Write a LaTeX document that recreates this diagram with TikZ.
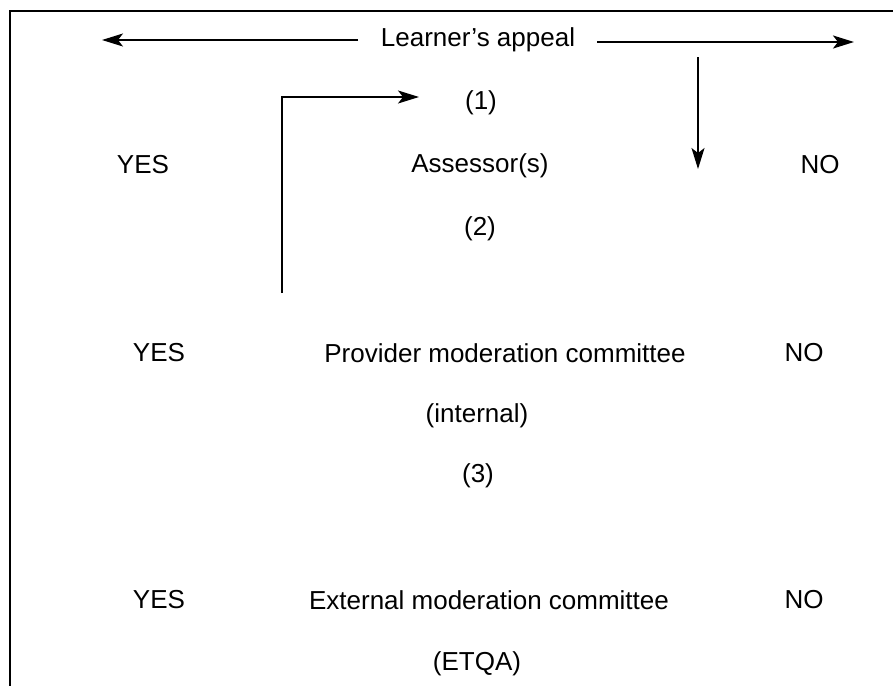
\documentclass[tikz,border=0pt]{standalone}
\usepackage{fontspec}
\setmainfont{Liberation Sans}
\usetikzlibrary{arrows.meta}
\begin{document}
\begin{tikzpicture}[x=1pt,y=-1pt,
  lbl/.style={font=\fontsize{26}{30}\selectfont, inner sep=0pt, anchor=center},
  con/.style={line width=1.2pt, -{Stealth[length=21pt,width=13pt,inset=5pt]}},
  thick con/.style={line width=2.2pt, -{Stealth[length=21pt,width=13pt,inset=5pt]}}]
\useasboundingbox (0,0) rectangle (893,686);
% frame
\coordinate (ftr) at (893,11);
\coordinate (ftl) at (10,11);
\coordinate (fbl) at (10,686);
\draw[line width=1.3pt] (ftr) -- (ftl) -- (fbl);
% texts
\node[lbl] (appeal) at (478,40) {Learner’s appeal};
\node[lbl] (one) at (481,103) {(1)};
\node[lbl] (yes1) at (143,165) {YES};
\node[lbl] (assessor) at (480,166) {Assessor(s)};
\node[lbl] (no1) at (820,165) {NO};
\node[lbl] (two) at (480,229) {(2)};
\node[lbl] (yes2) at (159,353) {YES};
\node[lbl] (provider) at (505,353) {Provider moderation committee};
\node[lbl] (no2) at (804,353) {NO};
\node[lbl] (internal) at (477,416) {(internal)};
\node[lbl] (three) at (478,476) {(3)};
\node[lbl] (yes3) at (159,600) {YES};
\node[lbl] (external) at (489,600) {External moderation committee};
\node[lbl] (no3) at (804,600) {NO};
\node[lbl] (etqa) at (477,664) {(ETQA)};
% arrows
\coordinate (la) at (358,40);
\coordinate (lt) at (102,40);
\draw[con] (la) -- (lt);
\coordinate (ra) at (597,42);
\coordinate (rt) at (854,42);
\draw[thick con] (ra) -- (rt);
\coordinate (da) at (698,57);
\coordinate (dt) at (698,169);
\draw[con] (da) -- (dt);
\coordinate (ea) at (282,293);
\coordinate (eb) at (282,97);
\coordinate (et) at (419,97);
\draw[con] (ea) -- (eb) -- (et);
\end{tikzpicture}
\end{document}
